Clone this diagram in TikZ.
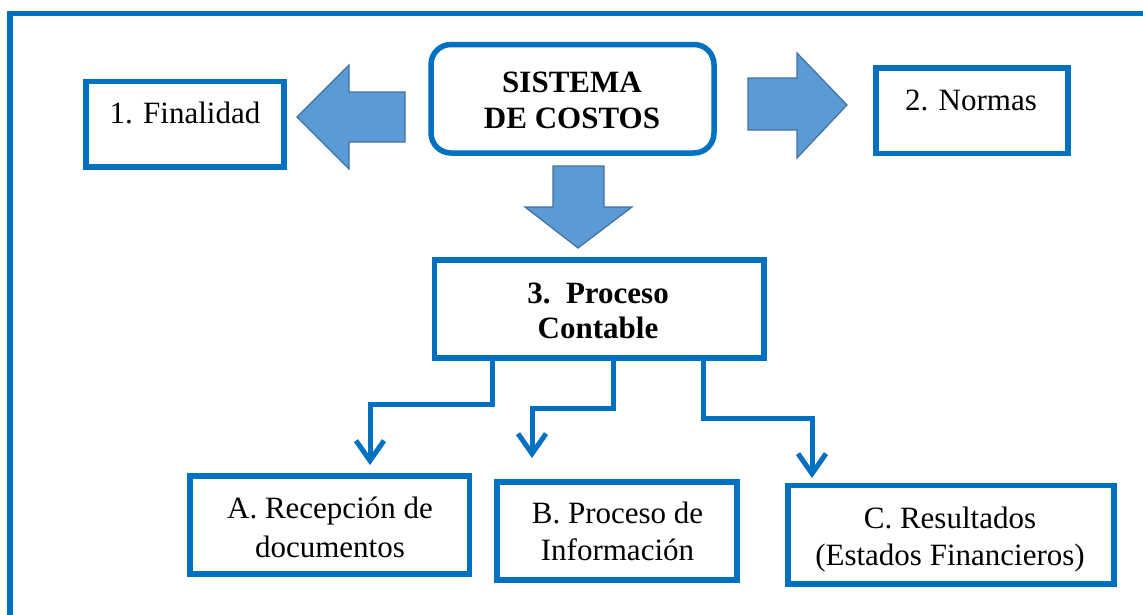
\documentclass[tikz,border=0pt]{standalone}
\usepackage{fontspec}
\setmainfont{Liberation Serif}
\usetikzlibrary{arrows.meta,calc}
\definecolor{frameblue}{HTML}{0070C0}
\definecolor{arrowfill}{HTML}{5B9BD5}
\definecolor{arrowedge}{HTML}{41719C}
\newcommand{\twolines}[2]{\begin{tabular}[t]{@{}c@{}}#1\\#2\end{tabular}}
\begin{document}
\begin{tikzpicture}[x=1pt,y=-1pt,
  box/.style={draw=frameblue, line width=5.5pt, inner sep=0pt, outer sep=0pt, fill=white},
  txt/.style={font=\fontsize{31}{38}\selectfont, inner sep=0pt, anchor=base},
  btxt/.style={font=\fontsize{31}{36}\selectfont\bfseries, inner sep=0pt, anchor=base},
  blockarrow/.style={fill=arrowfill, draw=arrowedge, line width=1.2pt, line join=miter},
  conn/.style={draw=frameblue, line width=5pt, line join=miter,
    -{Straight Barb[length=20pt,width=28pt]}}]
\useasboundingbox (0,0) rectangle (1143,614);
\clip (0,0) rectangle (1143,614);
% outer frame
\draw[frameblue, line width=5.5pt] (10,13.5) rectangle (1170,650);
% boxes
\node[box, minimum width=198pt, minimum height=85.5pt] (fin) at (185,124.25) {};
\node[box, minimum width=192pt, minimum height=85.5pt] (nor) at (972,110.75) {};
\node[box, rounded corners=20pt, minimum width=283pt, minimum height=108.5pt] (sis) at (572.5,98.75) {};
\node[box, minimum width=329.5pt, minimum height=98pt] (pc) at (599.25,309) {};
\node[box, minimum width=279.5pt, minimum height=98pt] (ra) at (329.75,525) {};
\node[box, minimum width=240pt, minimum height=98pt] (rb) at (617,531) {};
\node[box, minimum width=326pt, minimum height=98.5pt] (rc) at (951,534.75) {};
% texts
\node[txt] (tfin) at (185,123) {1. Finalidad};
\node[txt] (tnor) at (971,110) {2. Normas};
\node[btxt] (tsis) at (572,92) {\twolines{SISTEMA}{DE COSTOS}};
\node[btxt, font=\fontsize{31}{35}\selectfont\bfseries] (tpc) at (598,303) {\twolines{3.\ \ Proceso}{Contable}};
\node[txt, font=\fontsize{31}{39}\selectfont] (tra) at (330,518) {\twolines{A. Recepción de}{documentos}};
\node[txt, font=\fontsize{31}{37}\selectfont] (trb) at (617.5,523) {\twolines{B. Proceso de}{Información}};
\node[txt, font=\fontsize{31}{37}\selectfont] (trc) at (950,528) {\twolines{C. Resultados}{(Estados Financieros)}};
% block arrows
\draw[blockarrow] (405,92) -- (349,92) -- (349,65) -- (297,117) -- (349,169) -- (349,142) -- (405,142) -- cycle;
\draw[blockarrow] (748,78) -- (797,78) -- (797,53) -- (847,105) -- (797,158) -- (797,130) -- (748,130) -- cycle;
\draw[blockarrow] (553,166) -- (604,166) -- (604,207) -- (632,207) -- (578,248) -- (525,207) -- (553,207) -- cycle;
% connectors
\draw[conn, shorten >=11pt] ([xshift=-107.25pt]pc.south) -- ++(0,46) -| ([xshift=40.25pt]ra.north);
\draw[conn, shorten >=24pt] ([xshift=13.75pt]pc.south) -- ++(0,50) -| ([xshift=-85pt]rb.north);
\draw[conn, shorten >=7.5pt] ([xshift=103.75pt]pc.south) -- ++(0,60) -| ([xshift=-139pt]rc.north);
\end{tikzpicture}
\end{document}
